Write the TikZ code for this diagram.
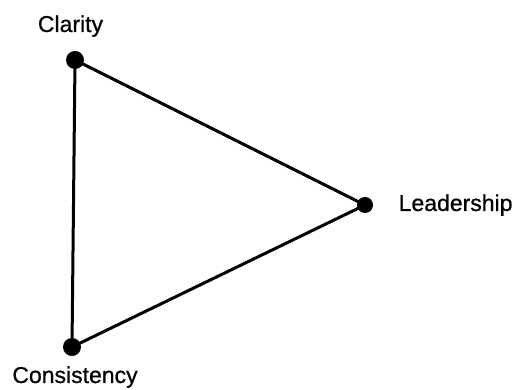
\documentclass[tikz,border=0pt]{standalone}
\usepackage{fontspec}
\setmainfont{Liberation Sans}
\newfontfamily\lblfont[FakeBold=0.7]{Liberation Sans}
\begin{document}
\begin{tikzpicture}[x=1pt,y=1pt,
  dot/.style={circle,fill=black,inner sep=0pt,minimum size=18pt},
  lbl/.style={font=\lblfont\fontsize{23}{26}\selectfont,inner sep=0pt},
  edge/.style={line width=3pt}]
\useasboundingbox (0,0) rectangle (516,390);
% corner points
\node[dot] (cla) at (75,330) {};
\node[dot,minimum size=16pt] (lea) at (365,185) {};
\node[dot] (con) at (72,43) {};
% labels
\node[lbl,anchor=base] (tcla) at (70.5,358) {Clarity};
\node[lbl,anchor=base west] (tlea) at (398.5,179) {Leadership};
\node[lbl,anchor=base] (tcon) at (75,7) {Consistency};
% sides of the triangle
\draw[edge] (cla.center) -- (lea.center) -- (con.center) -- cycle;
\end{tikzpicture}
\end{document}
